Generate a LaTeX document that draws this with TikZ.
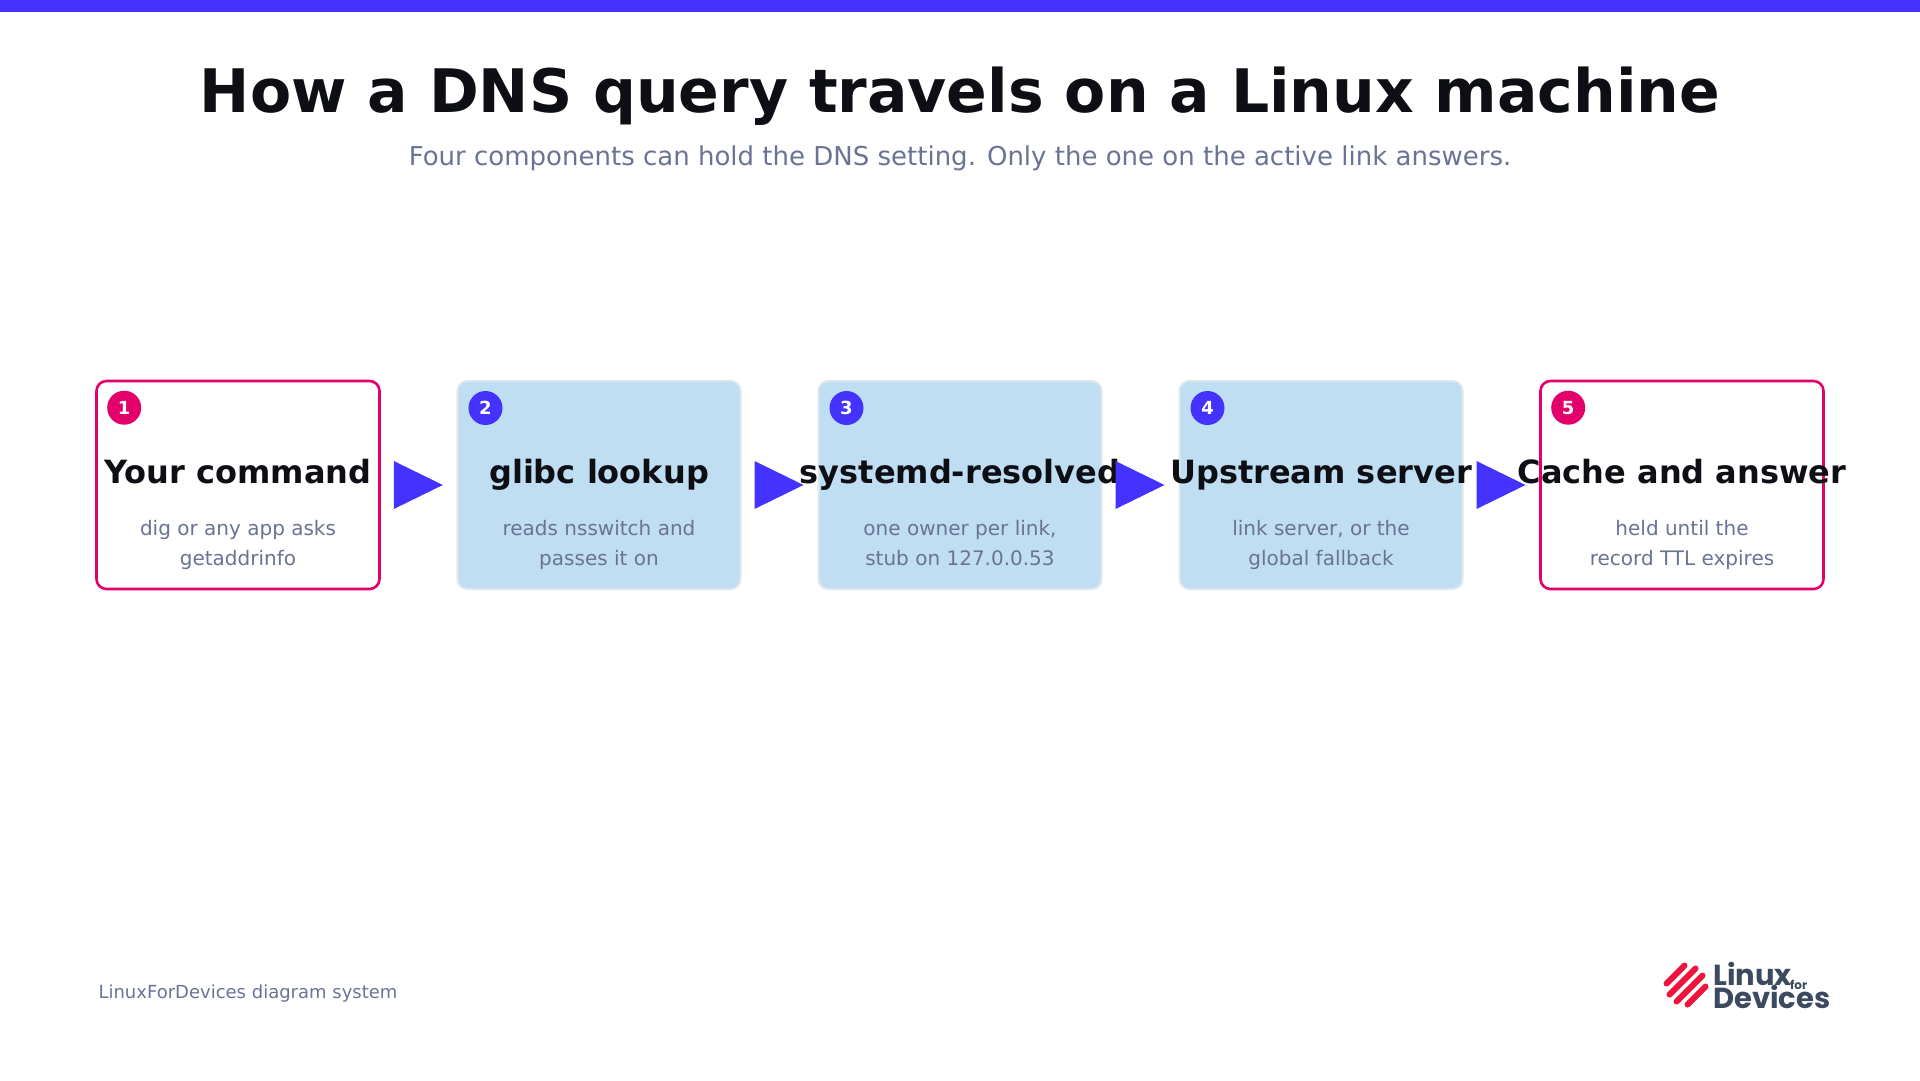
\documentclass[tikz,border=0pt]{standalone}
\usepackage{fontspec}
\setmainfont{DejaVu Sans}
\newfontfamily\logofont{Poppins}
\usetikzlibrary{positioning,calc}
\definecolor{brandblue}{HTML}{4433FF}
\definecolor{brandpink}{HTML}{E3006B}
\definecolor{boxblue}{HTML}{BFDEF1}
\definecolor{boxedge}{HTML}{DDE6EF}
\definecolor{mutedtxt}{HTML}{6A7393}
\definecolor{inktxt}{HTML}{0D0F14}
\definecolor{logored}{HTML}{F0143C}
\definecolor{logogrey}{HTML}{3C4A60}
\tikzset{
  stage/.style={rectangle,rounded corners=10pt,minimum width=283pt,minimum height=208pt,inner sep=0pt},
  endstage/.style={stage,draw=brandpink,line width=2.6pt,fill=white},
  midstage/.style={stage,draw=boxedge,line width=2pt,fill=boxblue},
  badge/.style={circle,minimum size=34pt,inner sep=0pt,text=white,font=\bfseries\fontsize{18}{18}\selectfont},
  stagetitle/.style={anchor=base,font=\bfseries\fontsize{32}{32}\selectfont,text=inktxt},
  stagenote/.style={anchor=base,font=\fontsize{20}{20}\selectfont,text=mutedtxt},
  flow/.style={fill=brandblue}
}
\begin{document}
\begin{tikzpicture}[x=1pt,y=1pt]
\useasboundingbox (0,0) rectangle (1920,-1080);
\fill[brandblue] (0,0) rectangle (1920,-12);
\node[font=\bfseries\fontsize{60}{60}\selectfont,text=inktxt] (title) at (960,-96) {How a DNS query travels on a Linux machine};
\node[font=\fontsize{26}{26}\selectfont,text=mutedtxt] (subtitle) at (960,-158) {Four components can hold the DNS setting. Only the one on the active link answers.};

% the five stages
\node[endstage] (cmd) at (238,-485) {};
\node[midstage] (glibc) at (599,-485) {};
\node[midstage] (resolved) at (960,-485) {};
\node[midstage] (upstream) at (1321,-485) {};
\node[endstage] (cache) at (1682,-485) {};

\foreach \st/\num/\col in {cmd/1/brandpink,glibc/2/brandblue,resolved/3/brandblue,upstream/4/brandblue,cache/5/brandpink}{
  \node[badge,fill=\col] (\st-num) at ($(\st.north west)+(29,-28)$) {\num};
}
\foreach \st/\head/\noteA/\noteB in {cmd/Your command/dig or any app asks/getaddrinfo,
  glibc/glibc lookup/reads nsswitch and/passes it on,
  resolved/systemd-resolved/{one owner per link,}/stub on 127.0.0.53,
  upstream/Upstream server/{link server, or the}/global fallback,
  cache/Cache and answer/held until the/record TTL expires}{
  \node[stagetitle] (\st-head) at ($(\st.center)+(0,2)$) {\head};
  \node[stagenote] (\st-noteA) at ($(\st.center)+(0,-50)$) {\noteA};
  \node[stagenote] (\st-noteB) at ($(\st.center)+(0,-80)$) {\noteB};
}

% arrows between stages
\foreach \a/\b in {cmd/glibc,glibc/resolved,resolved/upstream,upstream/cache}{
  \fill[flow] ($(\a.east)+(13,24)$) -- ($(\a.east)+(62,0)$) -- ($(\a.east)+(13,-24)$) -- cycle;
}

\node[anchor=west,font=\fontsize{18}{18}\selectfont,text=mutedtxt] (footer) at (95,-994) {LinuxForDevices diagram system};

% logo
\foreach \k/\len in {0/9,1/13,2/13,3/9}{
  \draw[logored,line width=6pt,line cap=round] ($(1686,-985)+(\k*7-10.5,-\k*7+10.5)-(\len,\len)$) -- ++(2*\len,2*\len);
}
\node[anchor=base west,inner sep=0pt,font=\logofont\bfseries\fontsize{29}{29}\selectfont,text=logogrey] (logo-a) at (1713,-985) {Linux};
\node[anchor=base west,inner sep=0pt,font=\logofont\bfseries\fontsize{12}{12}\selectfont,text=logogrey] (logo-b) at ($(logo-a.base east)+(-2,-4)$) {for};
\node[anchor=base west,inner sep=0pt,font=\logofont\bfseries\fontsize{29}{29}\selectfont,text=logogrey] (logo-c) at (1713,-1008) {Devices};
\end{tikzpicture}
\end{document}
